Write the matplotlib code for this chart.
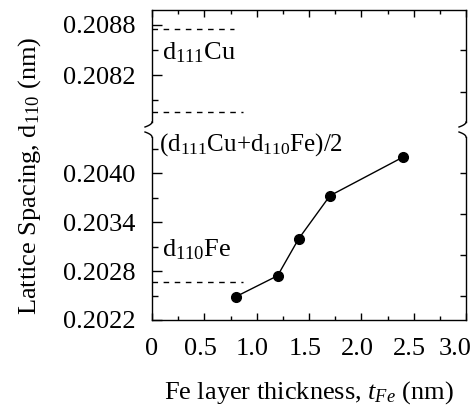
import numpy as np
import matplotlib
matplotlib.use("Agg")
import matplotlib.pyplot as plt
import matplotlib.transforms as mtransforms
from matplotlib.ticker import MultipleLocator

# data
t_fe = [0.8, 1.2, 1.4, 1.7, 2.4]
d110 = [0.202485, 0.202742, 0.203192, 0.203722, 0.204196]

d111_cu = 0.20875
d_avg = 0.207756
d110_fe = 0.20267

x_ticks = [0, 0.5, 1.0, 1.5, 2.0, 2.5, 3.0]
x_ticklabels = ["0", "0.5", "1.0", "1.5", "2.0", "2.5", "3.0"]
top_yticks = [0.2082, 0.2088]
top_yticklabels = ["0.2082", "0.2088"]
bot_yticks = [0.2022, 0.2028, 0.2034, 0.2040]
bot_yticklabels = ["0.2022", "0.2028", "0.2034", "0.2040"]

plt.rcParams["font.family"] = ["Liberation Serif", "DejaVu Serif"]
plt.rcParams["mathtext.fontset"] = "custom"
plt.rcParams["mathtext.rm"] = "Liberation Serif"
plt.rcParams["mathtext.it"] = "Liberation Serif:italic"
FS = 19

W, H = 476, 405
fig = plt.figure(figsize=(W / 100, H / 100), dpi=100)

def fx(px):
    return px / W

def fy(py):
    return 1 - py / H

left, right = 152, 466
ax_top = fig.add_axes([fx(left), fy(122), fx(right - left), (122 - 10) / H])
ax_bot = fig.add_axes([fx(left), fy(320), fx(right - left), (320 - 137) / H])

ax_top.set_ylim(0.207636, 0.20898)
ax_bot.set_ylim(0.2022, 0.204441)

for ax in (ax_top, ax_bot):
    ax.set_xlim(0, 3.0)
    ax.xaxis.set_major_locator(MultipleLocator(0.5))
    ax.xaxis.set_minor_locator(MultipleLocator(0.25))
    ax.yaxis.set_minor_locator(MultipleLocator(0.0003))
    ax.tick_params(which="both", direction="in", labelsize=FS, width=1.0,
                   left=True, right=False, top=True, bottom=True)
    ax.tick_params(which="major", length=5)
    ax.tick_params(which="minor", length=3)
    ax.tick_params(axis="y", which="major", length=7, pad=12)
    ax.tick_params(axis="y", which="minor", length=4)
    for s in ax.spines.values():
        s.set_linewidth(1.0)

ax_top.spines["bottom"].set_visible(False)
ax_top.tick_params(bottom=False, labelbottom=False, which="both")
ax_bot.spines["top"].set_visible(False)
ax_bot.tick_params(top=False, which="both")

ax_top.set_yticks(top_yticks)
ax_top.set_yticklabels(top_yticklabels)
ax_bot.set_yticks(bot_yticks)
ax_bot.set_yticklabels(bot_yticklabels)
ax_bot.set_xticks(x_ticks)
ax_bot.set_xticklabels(x_ticklabels)
ax_bot.tick_params(axis="x", pad=13)

# x labels sit a bit left of their ticks in the original
for i, lab in enumerate(ax_bot.get_xticklabels()):
    dx = -4 / 100 if i < len(x_ticks) - 1 else -11 / 100
    if i == 0:
        dx = 0
    lab.set_transform(lab.get_transform() + mtransforms.ScaledTranslation(dx, 0, fig.dpi_scale_trans))

# right side has its own tick spacing
for ax in (ax_top, ax_bot):
    tw = ax.twinx()
    tw.set_ylim(ax.get_ylim())
    tw.yaxis.set_major_locator(MultipleLocator(0.0005))
    tw.tick_params(direction="in", length=4, width=1.0, labelright=False)
    for s in tw.spines.values():
        s.set_visible(False)

# reference lines
dash = (0, (4, 4))
ax_top.plot([0, 0.78], [d111_cu, d111_cu], ls=dash, color="black", lw=1.0)
ax_top.plot([0, 0.87], [d_avg, d_avg], ls=dash, color="black", lw=1.0)
ax_bot.plot([0, 0.87], [d110_fe, d110_fe], ls=dash, color="black", lw=1.0)

ax_top.text(0.1, 0.208464, r"d$_{111}$Cu", fontsize=FS, va="center", ha="left")
ax_bot.text(0.07, 0.204343, r"(d$_{111}$Cu+d$_{110}$Fe)/2", fontsize=18,
            va="center", ha="left")
ax_bot.text(0.1, 0.203057, r"d$_{110}$Fe", fontsize=FS, va="center", ha="left")

ax_bot.plot(t_fe, d110, "-o", color="black", lw=1.0, markersize=7)

# break marks on both spines
s = np.linspace(0, 1, 20)
for xp in (left, right):
    fig.add_artist(plt.Line2D(fx(xp - 7 * s ** 2), fy(122 + 5 * s),
                              transform=fig.transFigure, color="black", lw=1.0))
    fig.add_artist(plt.Line2D(fx(xp - 7 * (1 - s) ** 2), fy(132 + 5 * s),
                              transform=fig.transFigure, color="black", lw=1.0))

ax_bot.set_xlabel(r"Fe layer thickness, $t_{Fe}$ (nm)", fontsize=FS, labelpad=14)
fig.text(fx(30), fy(176), r"Lattice Spacing, d$_{110}$ (nm)", fontsize=FS,
         rotation=90, va="center", ha="center")

fig.savefig("out.png", dpi=100)
